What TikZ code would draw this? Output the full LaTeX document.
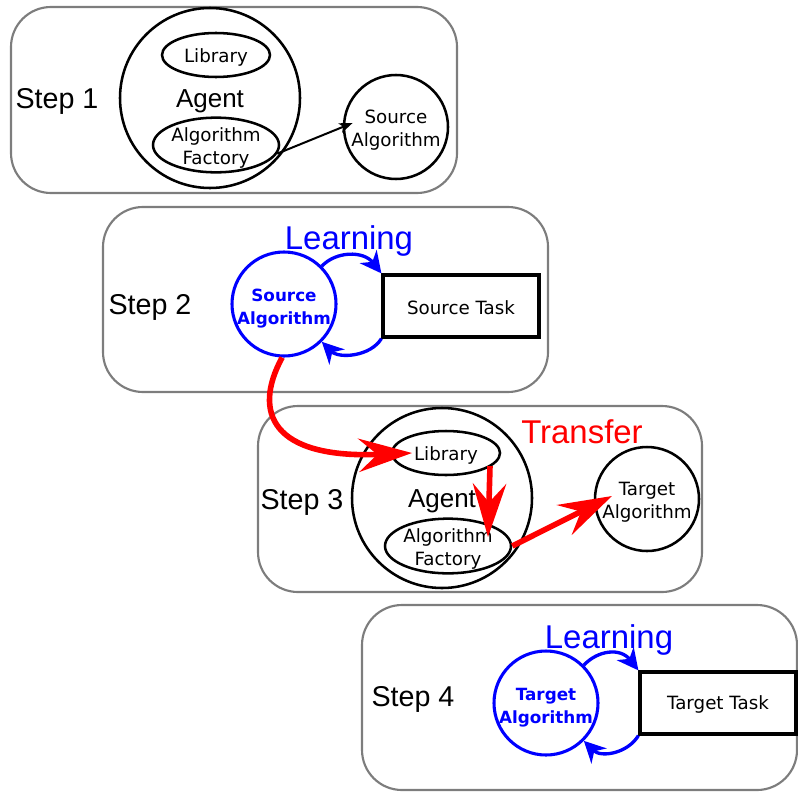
\documentclass[tikz,border=0pt]{standalone}
\usepackage{fontspec}
\setmainfont{DejaVu Sans}
\newfontfamily\arialfont{Liberation Sans}
\usetikzlibrary{arrows.meta,shapes.geometric,calc}
\definecolor{boxgray}{RGB}{125,125,125}
\definecolor{pureblue}{RGB}{0,0,255}
\definecolor{purered}{RGB}{255,0,0}
\begin{document}
\begin{tikzpicture}[x=0.75pt,y=-0.75pt,
  panel/.style={draw=boxgray, line width=1.6pt, rounded corners=30pt},
  steplabel/.style={font=\arialfont\fontsize{21.5}{25}\selectfont, yshift=-1.6pt},
  bigtitle/.style={font=\arialfont\fontsize{24.7}{28}\selectfont, yshift=-3pt},
  agentc/.style={circle, draw, line width=1.9pt, minimum size=135pt, inner sep=0pt},
  agenttext/.style={font=\arialfont\fontsize{19.5}{23}\selectfont, yshift=-2.2pt},
  algc/.style={circle, draw, line width=1.9pt, minimum size=78pt, inner sep=0pt},
  smalltext/.style={font=\fontsize{13.7}{17.5}\selectfont, align=center, yshift=-2.2pt},
  boldtext/.style={font=\bfseries\fontsize{12.6}{17.5}\selectfont, align=center, text=pureblue, yshift=-3.6pt},
  libell/.style={ellipse, draw, line width=1.9pt, minimum width=81pt, minimum height=33pt, inner sep=0pt},
  facell/.style={ellipse, draw, line width=1.9pt, minimum width=94.5pt, minimum height=41pt, inner sep=0pt},
  taskbox/.style={rectangle, draw, line width=2.4pt, minimum width=117pt, minimum height=46.5pt, inner sep=0pt},
  blarrow/.style={draw=pureblue, line width=2.5pt, -{Stealth[length=16pt,width=16pt,inset=5pt]}},
  redarrow/.style={draw=purered, line width=4.2pt, -{Stealth[length=40pt,width=25pt,inset=14pt]}},
  blackarrow/.style={draw, line width=1.5pt, -{Stealth[length=10pt,width=7.5pt,inset=2.5pt]}}
]
\useasboundingbox (0,0) rectangle (798,792);

% ---------- panels ----------
\draw[panel] (11,7) rectangle (457,193);
\draw[panel] (103,207) rectangle (548,392);
\draw[panel] (258,406) rectangle (702,592);
\draw[panel] (362,605) rectangle (797,790);

% ---------- Step 1 ----------
\node[steplabel] (s1) at (57,99) {Step 1};
\node[agentc, label={[agenttext]center:Agent}] (ag1) at (210,98) {};
\node[libell, label={[smalltext]center:Library}] (lib1) at (216,55) {};
\node[facell, label={[smalltext]center:Algorithm\\Factory}] (af1) at (216,145) {};
\node[algc, label={[smalltext]center:Source\\Algorithm}] (sa1) at (396,127) {};
\draw[blackarrow, shorten >=-8pt] (af1.-8) -- (sa1.west);

% ---------- Step 2 ----------
\node[steplabel] (s2) at (150,305) {Step 2};
\node[bigtitle, text=pureblue] (learn2) at (349,237) {Learning};
\node[algc, draw=pureblue, line width=2.3pt, label={[boldtext]center:Source\\Algorithm}] (sa2) at (284,304) {};
\node[taskbox, label={[smalltext, yshift=1pt]center:Source Task}] (st2) at (461,306) {};
\draw[blarrow] (sa2.45) .. controls +(14,-15) and +(-18,-23) .. (st2.north west);
\draw[blarrow] (st2.south west) .. controls +(-11,18) and +(17,17) .. (sa2.-45);

% ---------- Step 3 ----------
\node[steplabel] (s3) at (302,500) {Step 3};
\node[bigtitle, text=purered] (transfer) at (582,428) {Transfer};
\node[agentc, label={[agenttext]center:Agent}] (ag3) at (442,498) {};
\node[libell, label={[smalltext]center:Library}] (lib3) at (446,453) {};
\node[facell, label={[smalltext]center:Algorithm\\Factory}] (af3) at (448,546) {};
\node[algc, label={[smalltext]center:Target\\Algorithm}] (ta3) at (647,499) {};

% ---------- Step 4 ----------
\node[steplabel] (s4) at (413,697) {Step 4};
\node[bigtitle, text=pureblue] (learn4) at (609,636) {Learning};
\node[algc, draw=pureblue, line width=2.3pt, label={[boldtext]center:Target\\Algorithm}] (ta4) at (546,703) {};
\node[taskbox, label={[smalltext, yshift=1pt]center:Target Task}] (tt4) at (718,703) {};
\draw[blarrow] (ta4.45) .. controls +(14,-15) and +(-18,-23) .. (tt4.north west);
\draw[blarrow] (tt4.south west) .. controls +(-11,18) and +(17,17) .. (ta4.-45);

% ---------- red transfer arrows ----------
\draw[redarrow] (sa2.-92) .. controls +(-30,55) and +(-140,6) .. ($(lib3.center)+(-34,0)$);
\draw[redarrow] ($(lib3.center)+(44,13)$) -- ($(af3.center)+(40,-9)$);
\draw[redarrow] (af3.east) -- ($(ta3.center)+(-35,-3)$);
\end{tikzpicture}
\end{document}
